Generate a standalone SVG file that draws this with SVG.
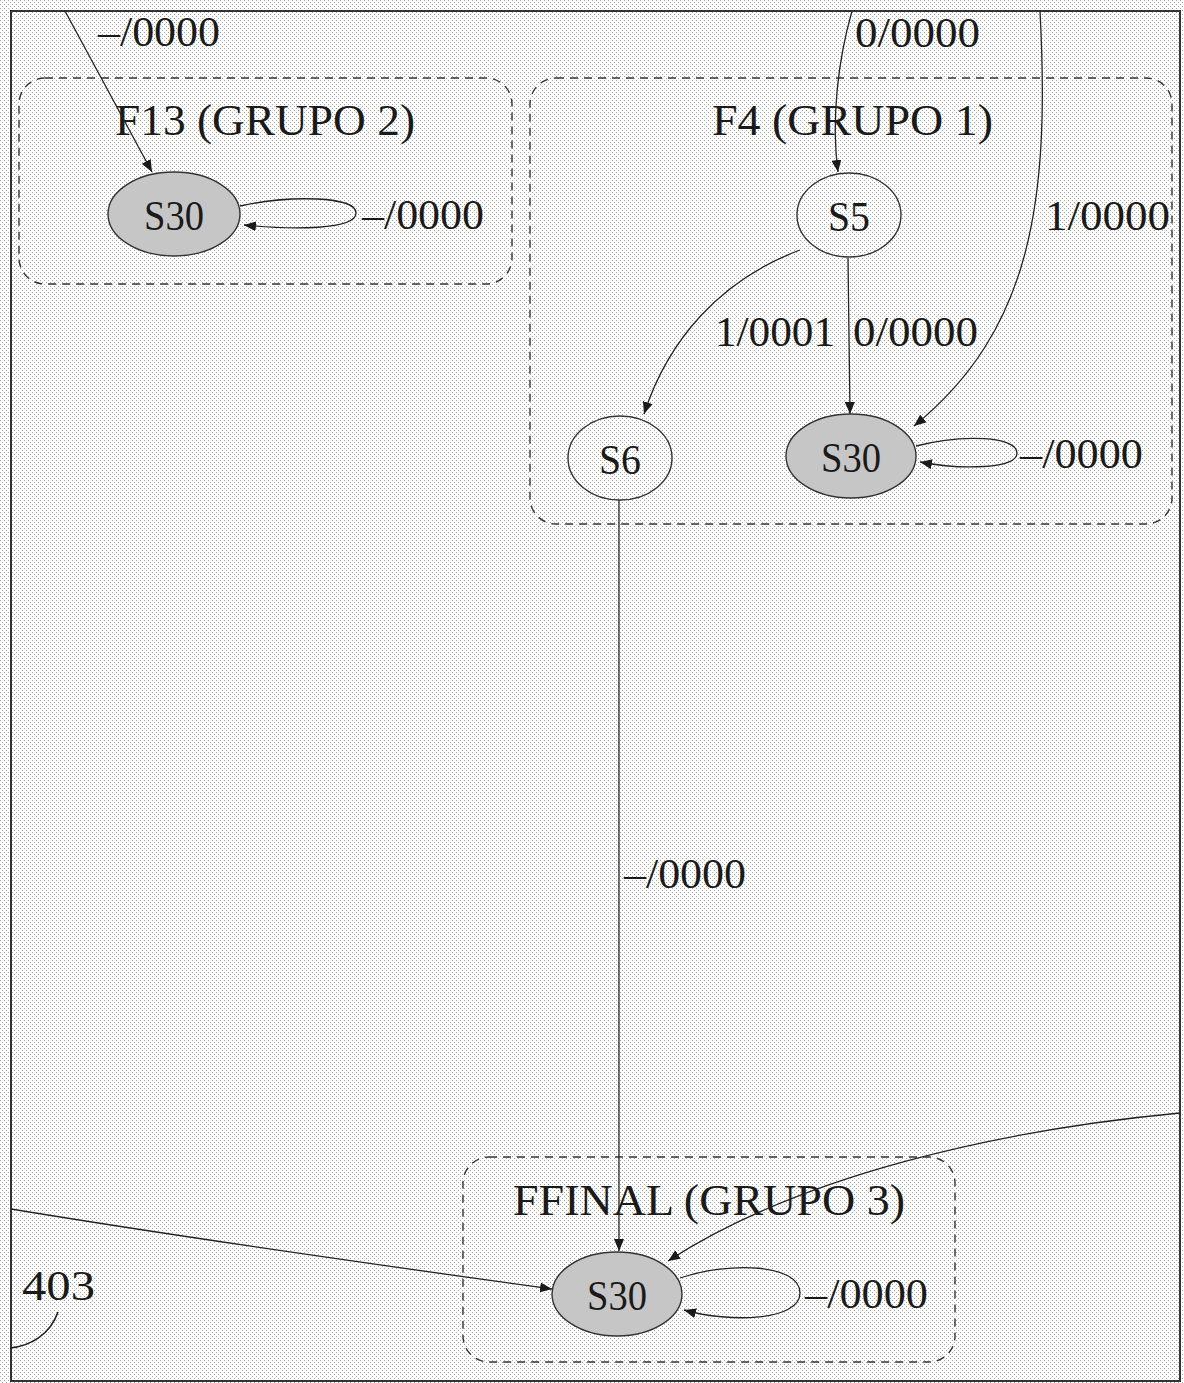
<svg xmlns="http://www.w3.org/2000/svg" width="1184" height="1383" viewBox="0 0 1184 1383">
<defs>
  <pattern id="stip" width="4" height="4" patternUnits="userSpaceOnUse">
    <rect width="4" height="4" fill="#ffffff"/>
    <rect x="0" y="0" width="1" height="1" fill="#a8a8a8"/>
    <rect x="2" y="2" width="1" height="1" fill="#a8a8a8"/>
  </pattern>
  <marker id="arr" viewBox="0 0 12 10" markerWidth="12" markerHeight="10" refX="12" refY="5" orient="auto" markerUnits="userSpaceOnUse">
    <path d="M0,0 L12,5 L0,10 Z" fill="#1a1a1a"/>
  </marker>
  <style>
    .lbl { font-family: "Liberation Serif", "DejaVu Serif", serif; font-size: 43px; fill: #1a1a1a; }
    .clbl { font-family: "Liberation Serif", "DejaVu Serif", serif; font-size: 45px; fill: #1a1a1a; }
    .nlbl { font-family: "Liberation Serif", "DejaVu Serif", serif; font-size: 43px; fill: #1a1a1a; text-anchor: middle; }
    .cluster { fill: none; stroke: #333; stroke-width: 1.4; stroke-dasharray: 8 6; }
    .node { fill: none; stroke: #333; stroke-width: 1.4; }
    .node.final { fill: #c6c6c6; }
    .edge { fill: none; stroke: #222; stroke-width: 1.3; marker-end: url(#arr); }
    .plain { fill: none; stroke: #222; stroke-width: 1.6; }
  </style>
</defs>
<rect x="0" y="0" width="1184" height="1383" fill="url(#stip)"/>
<rect x="11" y="11" width="1169" height="1370" fill="none" stroke="#333" stroke-width="2"/>

<g id="cluster-f13">
  <rect class="cluster" x="19" y="78" width="493" height="206" rx="26" ry="26"/>
  <text class="clbl" x="115" y="135" textLength="300" lengthAdjust="spacingAndGlyphs">F13 (GRUPO 2)</text>
</g>
<g id="cluster-f4">
  <rect class="cluster" x="530" y="78" width="642" height="446" rx="26" ry="26"/>
  <text class="clbl" x="712" y="135" textLength="281" lengthAdjust="spacingAndGlyphs">F4 (GRUPO 1)</text>
</g>
<g id="cluster-ffinal">
  <rect class="cluster" x="463" y="1157" width="492" height="205" rx="26" ry="26"/>
  <text class="clbl" x="513" y="1215" textLength="392" lengthAdjust="spacingAndGlyphs">FFINAL (GRUPO 3)</text>
</g>

<g id="connectors">
  <path id="e-top-f13" class="edge" d="M65,11 L152,172"/>
  <path id="e-f13-loop" class="edge" d="M240,206 C290,195 356,196 356,213 C356,230 292,230 244,225"/>
  <path id="e-top-s5" class="edge" d="M852,11 C838,60 831,120 838,172"/>
  <path id="e-top-s30" class="edge" d="M1040,11 C1050,200 1032,330 914,426"/>
  <path id="e-s5-s6" class="edge" d="M800,250 C720,280 668,340 644,414"/>
  <path id="e-s5-s30" class="edge" d="M848,258 L850,414"/>
  <path id="e-f4-loop" class="edge" d="M916,446 C962,434 1017,436 1017,453 C1017,469 962,470 920,462"/>
  <path id="e-s6-final" class="edge" d="M619,500 L619,1251"/>
  <path id="e-left-final" class="edge" d="M11,1209 C150,1232 400,1268 552,1289"/>
  <path id="e-right-final" class="edge" d="M1180,1113 C1000,1130 800,1175 668,1261"/>
  <path id="e-final-loop" class="edge" d="M680,1278 C730,1261 800,1264 800,1293 C800,1321 730,1323 684,1310"/>
  <path id="leader-403" class="plain" d="M58,1312 C50,1335 30,1346 10,1348"/>
</g>

<g id="edge-labels">
  <text class="lbl" x="98" y="46" textLength="122" lengthAdjust="spacingAndGlyphs">–/0000</text>
  <text class="lbl" x="362" y="229" textLength="122" lengthAdjust="spacingAndGlyphs">–/0000</text>
  <text class="lbl" x="855" y="47" textLength="125" lengthAdjust="spacingAndGlyphs">0/0000</text>
  <text class="lbl" x="1045" y="230" textLength="125" lengthAdjust="spacingAndGlyphs">1/0000</text>
  <text class="lbl" x="715" y="346" textLength="120" lengthAdjust="spacingAndGlyphs">1/0001</text>
  <text class="lbl" x="853" y="346" textLength="125" lengthAdjust="spacingAndGlyphs">0/0000</text>
  <text class="lbl" x="1020" y="468" textLength="123" lengthAdjust="spacingAndGlyphs">–/0000</text>
  <text class="lbl" x="624" y="888" textLength="122" lengthAdjust="spacingAndGlyphs">–/0000</text>
  <text class="lbl" x="805" y="1308" textLength="123" lengthAdjust="spacingAndGlyphs">–/0000</text>
  <text class="lbl" x="22" y="1300" textLength="73" lengthAdjust="spacingAndGlyphs">403</text>
</g>

<g id="node-f13-s30">
  <ellipse class="node final" cx="174" cy="214" rx="66" ry="42"/>
  <text class="nlbl" x="174" y="230" textLength="60" lengthAdjust="spacingAndGlyphs">S30</text>
</g>
<g id="node-s5">
  <ellipse class="node" cx="849" cy="215" rx="52" ry="42"/>
  <text class="nlbl" x="849" y="231" textLength="42" lengthAdjust="spacingAndGlyphs">S5</text>
</g>
<g id="node-s6">
  <ellipse class="node" cx="620" cy="458" rx="52" ry="42"/>
  <text class="nlbl" x="620" y="474" textLength="42" lengthAdjust="spacingAndGlyphs">S6</text>
</g>
<g id="node-f4-s30">
  <ellipse class="node final" cx="851" cy="456" rx="65" ry="42"/>
  <text class="nlbl" x="851" y="472" textLength="60" lengthAdjust="spacingAndGlyphs">S30</text>
</g>
<g id="node-ffinal-s30">
  <ellipse class="node final" cx="617" cy="1294" rx="65" ry="42"/>
  <text class="nlbl" x="617" y="1310" textLength="60" lengthAdjust="spacingAndGlyphs">S30</text>
</g>
</svg>
